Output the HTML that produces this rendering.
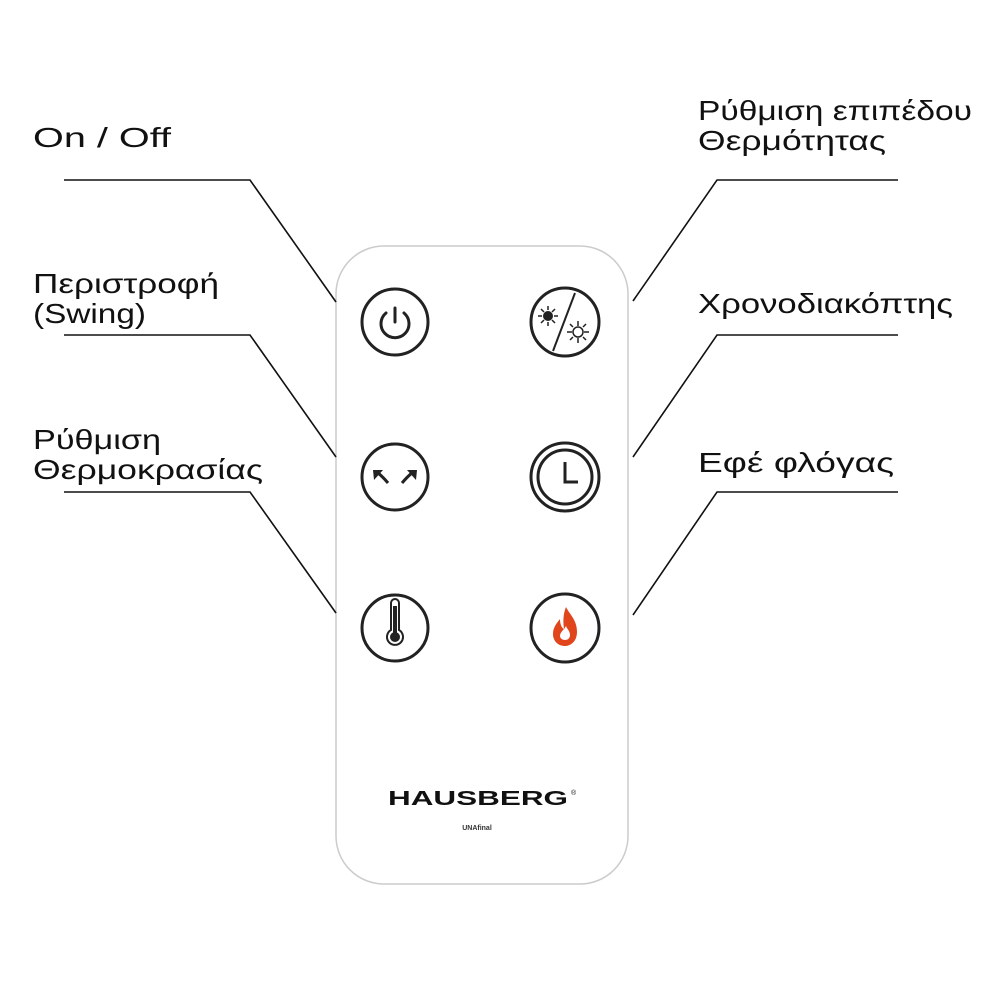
<!DOCTYPE html>
<html><head><meta charset="utf-8"><style>
html,body{margin:0;padding:0;background:#fff}
svg{display:block}
text{font-family:"Liberation Sans","DejaVu Sans",sans-serif;font-size:28px;fill:#111}
</style></head><body>
<svg width="1000" height="1000" viewBox="0 0 1000 1000" xmlns="http://www.w3.org/2000/svg">
<!-- remote body -->
<rect x="336" y="246" width="292" height="638" rx="48" fill="#fff" stroke="#ccc" stroke-width="1.5"/>
<!-- connectors -->
<g stroke="#111" stroke-width="1.6" fill="none">
<polyline points="64,180 250,180 336,302"/>
<polyline points="64,335 250,335 336,457"/>
<polyline points="64,492 250,492 336,613"/>
<polyline points="898,180 717,180 633,301"/>
<polyline points="898,335 717,335 633,457"/>
<polyline points="898,492 717,492 633,615"/>
</g>
<!-- labels -->
<text x="33" y="147" textLength="138" lengthAdjust="spacingAndGlyphs">On / Off</text>
<text x="33" y="293" textLength="186" lengthAdjust="spacingAndGlyphs">Περιστροφή</text>
<text x="33" y="323" textLength="113" lengthAdjust="spacingAndGlyphs">(Swing)</text>
<text x="33" y="449" textLength="128" lengthAdjust="spacingAndGlyphs">Ρύθμιση</text>
<text x="33" y="479" textLength="230" lengthAdjust="spacingAndGlyphs">Θερμοκρασίας</text>
<text x="698" y="120" textLength="274" lengthAdjust="spacingAndGlyphs">Ρύθμιση επιπέδου</text>
<text x="698" y="150" textLength="188" lengthAdjust="spacingAndGlyphs">Θερμότητας</text>
<text x="698" y="313" textLength="255" lengthAdjust="spacingAndGlyphs">Χρονοδιακόπτης</text>
<text x="698" y="472" textLength="196" lengthAdjust="spacingAndGlyphs">Εφέ φλόγας</text>
<!-- buttons -->
<g stroke="#222" stroke-width="3" fill="none">
<circle cx="395" cy="322" r="33"/>
<circle cx="565" cy="322" r="34"/>
<circle cx="395" cy="477" r="33"/>
<circle cx="565" cy="477" r="34"/>
<circle cx="565" cy="477" r="27"/>
<circle cx="395" cy="628" r="33"/>
<circle cx="565" cy="628" r="34"/>
</g>
<!-- power -->
<g stroke="#222" stroke-width="3" fill="none" stroke-linecap="round">
<path d="M386,313 A14,14 0 1 0 404,313"/>
<line x1="395" y1="308" x2="395" y2="322"/>
</g>
<!-- heat level -->
<g stroke="#222" stroke-width="2" fill="none">
<line x1="575" y1="293" x2="553" y2="351"/>
<circle cx="548" cy="316" r="4" fill="#222"/>
<path d="M548,306v4M548,322v4M538,316h4M554,316h4M541,309l3,3M555,309l-3,3M541,323l3,-3M555,323l-3,-3" stroke-width="1.5"/>
<circle cx="578" cy="332" r="5" stroke-width="1.5"/>
<path d="M578,321v5M578,338v5M567,332h5M584,332h5M570,324l3,3M586,324l-3,3M570,340l3,-3M586,340l-3,-3" stroke-width="1.5"/>
</g>
<!-- swing -->
<g stroke="#222" stroke-width="3" fill="none">
<path d="M388,483 Q382,476 378,473"/>
<path d="M402,483 Q408,476 412,473"/>
</g>
<polygon points="373,470 383,470 374,480" fill="#222"/>
<polygon points="417,470 407,470 416,480" fill="#222"/>
<!-- clock hands -->
<polyline points="565,462 565,482 578,482" stroke="#222" stroke-width="3" fill="none"/>
<!-- thermometer -->
<g stroke="#222" stroke-width="2" fill="none">
<path d="M391,603 a4,4 0 0 1 8,0 v27 a8,8 0 1 1 -8,0 z"/>
</g>
<rect x="393" y="606" width="4" height="28" fill="#222"/>
<circle cx="395" cy="637" r="5" fill="#222"/>
<!-- flame -->
<path d="M566,607 C570,615 577,620 577,632 C577,641 571,646 565,646 C558,646 553,641 553,634 C553,627 557,623 560,619 C560,625 562,628 564,629 C563,622 563,614 566,607 Z M565,640 C568,640 570,638 570,635 C570,631 567,629 566,626 C564,630 560,632 560,636 C560,638 562,640 565,640 Z" fill="#e0451b" fill-rule="evenodd"/>
<!-- brand -->
<text x="478" y="805" text-anchor="middle" style="font-size:20px;font-weight:bold;fill:#111" textLength="180" lengthAdjust="spacingAndGlyphs">HAUSBERG</text>
<text x="571" y="795" style="font-size:7px">®</text>
<text x="477" y="830" text-anchor="middle" style="font-size:7px;font-weight:bold;fill:#333">UNAfinal</text>
</svg>
</body></html>
